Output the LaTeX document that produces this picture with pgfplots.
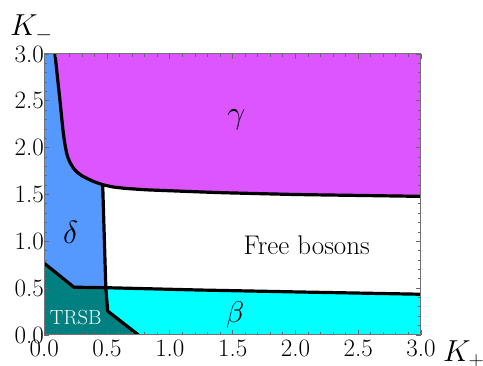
\documentclass[border=0pt]{standalone}
\usepackage{fontspec}
\usepackage{pgfplots}
\pgfplotsset{compat=1.18}
\definecolor{cdelta}{RGB}{85,153,255}
\definecolor{cgamma}{RGB}{221,85,255}
\definecolor{ctrsb}{RGB}{0,128,128}
\definecolor{cbeta}{RGB}{0,255,255}
\begin{document}
\begin{tikzpicture}
\useasboundingbox (0,0) rectangle (483pt,366pt);
\begin{axis}[
  at={(44.3pt,31pt)}, anchor=south west,
  scale only axis, width=376.7pt, height=281pt,
  xmin=0, xmax=3, ymin=0, ymax=3,
  axis on top,
  xtick={0,0.5,1,1.5,2,2.5,3},
  xticklabels={0.0,0.5,1.0,1.5,2.0,2.5,3.0},
  ytick={0,0.5,1,1.5,2,2.5,3},
  yticklabels={0.0,0.5,1.0,1.5,2.0,2.5,3.0},
  minor tick num=4,
  tick align=inside,
  major tick length=5pt, minor tick length=3pt,
  every tick/.style={black!60, line width=0.8pt},
  axis line style={black!55, line width=1pt},
  ticklabel style={font=\fontsize{25}{28}\selectfont},
  xticklabel style={yshift=-1pt},
  yticklabel style={xshift=3pt},
]
% gamma region
\addplot[fill=cgamma, draw=none] coordinates {
(0.085,3.0) (0.105,2.75) (0.125,2.5) (0.14,2.3) (0.152,2.15) (0.165,2.03)
(0.18,1.93) (0.20,1.855) (0.23,1.785) (0.26,1.74) (0.30,1.70) (0.35,1.665)
(0.40,1.635) (0.465,1.605) (0.55,1.58) (0.65,1.565) (0.815,1.55) (1.0,1.54)
(1.4,1.52) (2.0,1.50) (2.5,1.49) (3.0,1.48) (3.0,3.0) (0.085,3.0)};
% delta region
\addplot[fill=cdelta, draw=none] coordinates {
(0,0.765) (0,3.0) (0.085,3.0) (0.105,2.75) (0.125,2.5) (0.14,2.3) (0.152,2.15)
(0.165,2.03) (0.18,1.93) (0.20,1.855) (0.23,1.785) (0.26,1.74) (0.30,1.70)
(0.35,1.665) (0.40,1.635) (0.465,1.605) (0.49,0.505) (0.236,0.51) (0,0.765)};
% beta region
\addplot[fill=cbeta, draw=none] coordinates {
(0.49,0.505) (1.24,0.48) (2.0,0.46) (3.0,0.435) (3.0,0) (0.75,0) (0.505,0.255) (0.49,0.505)};
% TRSB region
\addplot[fill=ctrsb, draw=none] coordinates {
(0,0) (0.75,0) (0.505,0.255) (0.49,0.505) (0.236,0.51) (0,0.765) (0,0)};
% boundaries
\addplot[black, line width=3.2pt, line join=round, smooth, tension=0.3] coordinates {
(0.085,3.0) (0.105,2.75) (0.125,2.5) (0.14,2.3) (0.152,2.15) (0.165,2.03)
(0.18,1.93) (0.20,1.855) (0.23,1.785) (0.26,1.74) (0.30,1.70) (0.35,1.665)
(0.40,1.635) (0.465,1.605) (0.55,1.58) (0.65,1.565) (0.815,1.55) (1.0,1.54)
(1.4,1.52) (2.0,1.50) (2.5,1.49) (3.0,1.48)};
\addplot[black, line width=3.2pt, line join=round] coordinates {
(0.465,1.605) (0.49,0.505) (0.505,0.255) (0.75,0)};
\addplot[black, line width=3.2pt, line join=round] coordinates {
(0,0.765) (0.236,0.51) (0.49,0.505) (1.24,0.48) (2.0,0.46) (3.0,0.435)};
\node[font=\fontsize{24.88}{28}\selectfont, scale=1.29] at (axis cs:1.53,2.30) {$\gamma$};
\node[font=\fontsize{24.88}{28}\selectfont, scale=1.29] at (axis cs:0.21,1.10) {$\delta$};
\node[font=\fontsize{27}{30}\selectfont] at (axis cs:2.09,0.96) {Free bosons};
\node[font=\fontsize{24.88}{28}\selectfont, scale=1.2] at (axis cs:1.52,0.21) {$\beta$};
\node[font=\fontsize{20.5}{24}\selectfont, text=white] at (axis cs:0.25,0.19) {TRSB};
\end{axis}
\node[anchor=base west, inner sep=0pt, font=\fontsize{24.88}{28}\selectfont, scale=1.22] at (443pt,4pt) {$K_{\scriptscriptstyle +}$};
\node[anchor=base west, inner sep=0pt, font=\fontsize{24.88}{28}\selectfont, scale=1.22] at (10pt,330pt) {$K_{\scriptscriptstyle -}$};
\end{tikzpicture}
\end{document}
